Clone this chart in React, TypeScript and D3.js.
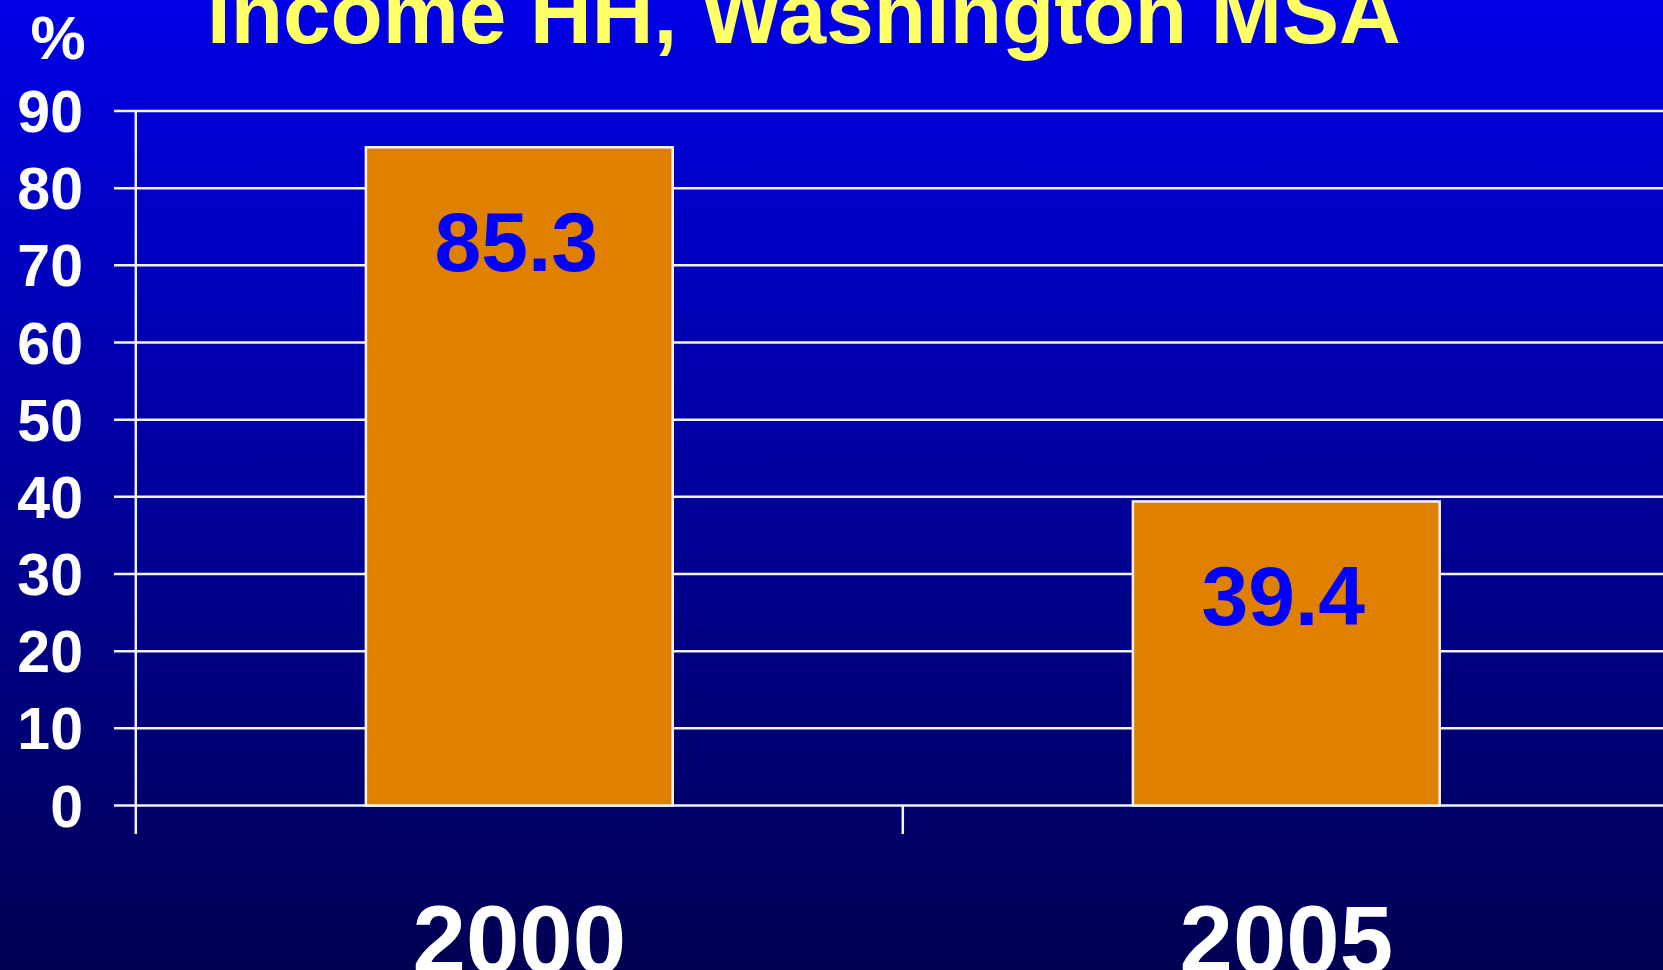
import React, { useEffect, useRef } from "react";
import * as d3 from "d3";

const title = "Income HH, Washington MSA";
const unitLabel = "%";
const years = ["2000", "2005"];
const shares = [85.3, 39.4];
const yTicks = [0, 10, 20, 30, 40, 50, 60, 70, 80, 90];

const W = 1663;
const H = 970;

const App = () => {
  const svgRef = useRef<SVGSVGElement>(null);

  useEffect(() => {
    const svg = d3.select(svgRef.current);
    svg.selectAll("*").remove();
    svg.attr("width", W).attr("height", H).attr("viewBox", `0 0 ${W} ${H}`);

    const font = "'Liberation Sans', Arial, sans-serif";

    // background gradient
    const defs = svg.append("defs");
    const grad = defs
      .append("linearGradient")
      .attr("id", "bg")
      .attr("x1", 0)
      .attr("y1", 0)
      .attr("x2", 0)
      .attr("y2", 1);
    grad.append("stop").attr("offset", "0%").attr("stop-color", "#0000e6");
    grad.append("stop").attr("offset", "100%").attr("stop-color", "#000052");
    svg.append("rect").attr("width", W).attr("height", H).attr("fill", "url(#bg)");

    const left = 135.8;
    const y = d3.scaleLinear().domain([0, 90]).range([805.5, 111]);
    const x = d3
      .scaleBand()
      .domain(years)
      .range([left, left + 2 * 767]);

    // gridlines
    svg
      .append("g")
      .selectAll("line")
      .data(yTicks)
      .enter()
      .append("line")
      .attr("x1", 114)
      .attr("x2", W)
      .attr("y1", (d) => y(d))
      .attr("y2", (d) => y(d))
      .attr("stroke", "#f2f2f2")
      .attr("stroke-width", 2.5);

    // y axis line
    svg
      .append("line")
      .attr("x1", left)
      .attr("x2", left)
      .attr("y1", y(90))
      .attr("y2", 834)
      .attr("stroke", "#f2f2f2")
      .attr("stroke-width", 2.5);

    // category ticks
    svg
      .append("g")
      .selectAll("line")
      .data(years.slice(1))
      .enter()
      .append("line")
      .attr("x1", (d) => x(d)!)
      .attr("x2", (d) => x(d)!)
      .attr("y1", y(0))
      .attr("y2", 834)
      .attr("stroke", "#f2f2f2")
      .attr("stroke-width", 2.5);

    // y tick labels
    svg
      .append("g")
      .selectAll("text")
      .data(yTicks)
      .enter()
      .append("text")
      .attr("x", 83)
      .attr("y", (d) => y(d) + 21)
      .attr("text-anchor", "end")
      .style("font-family", font)
      .style("font-weight", "bold")
      .style("font-size", "59px")
      .style("fill", "#ffffff")
      .text((d) => d);

    // bars
    const bw = x.bandwidth();
    svg
      .append("g")
      .selectAll("rect")
      .data(shares)
      .enter()
      .append("rect")
      .attr("x", (d, i) => x(years[i])! + bw * 0.3)
      .attr("width", bw * 0.4)
      .attr("y", (d) => y(d))
      .attr("height", (d) => y(0) - y(d))
      .attr("fill", "#df8000")
      .attr("stroke", "#f5f5f5")
      .attr("stroke-width", 2.5);

    // value labels
    svg
      .append("g")
      .selectAll("text")
      .data(shares)
      .enter()
      .append("text")
      .attr("x", (d, i) => x(years[i])! + bw / 2 - 3)
      .attr("y", (d) => y(d) + 124)
      .attr("text-anchor", "middle")
      .style("font-family", font)
      .style("font-weight", "bold")
      .style("font-size", "84px")
      .style("fill", "#0000ff")
      .text((d) => d.toFixed(1));

    // category labels (cut by the bottom edge, as in the slide)
    svg
      .append("g")
      .selectAll("text")
      .data(years)
      .enter()
      .append("text")
      .attr("x", (d) => x(d)! + bw / 2)
      .attr("y", 973)
      .attr("text-anchor", "middle")
      .style("font-family", font)
      .style("font-weight", "bold")
      .style("font-size", "96px")
      .style("fill", "#ffffff")
      .text((d) => d);

    // unit label
    svg
      .append("text")
      .attr("x", 58)
      .attr("y", 59)
      .attr("text-anchor", "middle")
      .style("font-family", font)
      .style("font-weight", "bold")
      .style("font-size", "62px")
      .style("fill", "#ffffff")
      .text(unitLabel);

    // title (cut off at the top, as in the slide)
    svg
      .append("text")
      .attr("x", 207)
      .attr("y", 43)
      .style("font-family", font)
      .style("font-weight", "bold")
      .style("font-size", "85.5px")
      .style("fill", "#ffff66")
      .text(title);
  }, []);

  return <svg ref={svgRef} style={{ position: "absolute", left: 0, top: 0 }} />;
};

export default App;
